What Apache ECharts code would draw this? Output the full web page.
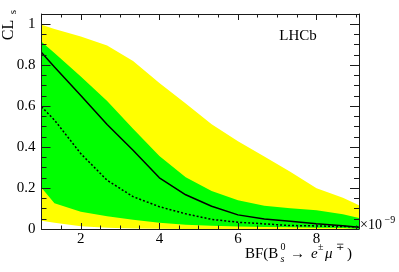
<!DOCTYPE html>
<html>
<head>
<meta charset="utf-8">
<script src="https://cdn.jsdelivr.net/npm/echarts@6/dist/echarts.min.js"></script>
<style>html,body{margin:0;padding:0;background:#fff;}#c{width:399px;height:272px;}</style>
</head>
<body>
<div id="c"></div>
<script>
// Data
var bf        = [1.0, 1.33, 2.0, 2.67, 3.33, 4.0, 4.67, 5.33, 6.0, 6.67, 7.33, 8.0, 8.67, 9.08];
var yellowUp  = [0.997, 0.977, 0.940, 0.896, 0.820, 0.713, 0.613, 0.512, 0.429, 0.354, 0.280, 0.199, 0.153, 0.116];
var greenUp   = [0.915, 0.860, 0.745, 0.625, 0.490, 0.356, 0.253, 0.185, 0.140, 0.113, 0.101, 0.091, 0.072, 0.054];
var greenLow  = [0.202, 0.126, 0.084, 0.062, 0.045, 0.030, 0.021, 0.016, 0.012, 0.010, 0.008, 0.006, 0.005, 0.004];
var yellowLow = [0.040, 0.031, 0.013, 0.006, 0.003, 0.001, 0, 0, 0, 0, 0, 0, 0, 0];
var observed  = [0.862, 0.791, 0.652, 0.510, 0.385, 0.250, 0.167, 0.111, 0.069, 0.049, 0.038, 0.026, 0.016, 0.008];
var expected  = [0.597, 0.532, 0.368, 0.238, 0.158, 0.109, 0.074, 0.047, 0.033, 0.025, 0.017, 0.015, 0.012, 0.010];

var xMajor = [2, 4, 6, 8];
var xMinor = [1.5, 2.5, 3, 3.5, 4.5, 5, 5.5, 6.5, 7, 7.5, 8.5, 9];
var yMajor = [0, 0.2, 0.4, 0.6, 0.8, 1];
var yMinor = [0.05, 0.1, 0.15, 0.25, 0.3, 0.35, 0.45, 0.5, 0.55, 0.65, 0.7, 0.75, 0.85, 0.9, 0.95, 1.0];

var XMIN = 1, XMAX = 9.08, YMIN = 0, YMAX = 1.05;
var SERIF = 'Liberation Serif';
var FRAME = '#1a1a1a';

function pairs(ys) { return bf.map(function (x, i) { return [x, ys[i]]; }); }

function xAx(pos, ticks, len, labels, line) {
  return {
    type: 'value', min: XMIN, max: XMAX, position: pos, z: 10,
    axisLine: { show: line, onZero: false, lineStyle: { color: FRAME, width: 1 } },
    axisTick: { show: true, inside: true, length: len, customValues: ticks, lineStyle: { color: FRAME, width: 1 } },
    axisLabel: labels ? { show: true, customValues: xMajor, margin: 3, color: '#000', fontFamily: SERIF, fontSize: 15 } : { show: false },
    splitLine: { show: false }
  };
}
function yAx(pos, ticks, len, labels, line) {
  return {
    type: 'value', min: YMIN, max: YMAX, position: pos, z: 10,
    axisLine: { show: line, onZero: false, lineStyle: { color: FRAME, width: 1 } },
    axisTick: { show: true, inside: true, length: len, customValues: ticks, lineStyle: { color: FRAME, width: 1 } },
    axisLabel: labels ? { show: true, customValues: yMajor, margin: 6, color: '#000', fontFamily: SERIF, fontSize: 15 } : { show: false },
    splitLine: { show: false }
  };
}
function area(ys, color, z) {
  return { type: 'line', data: pairs(ys), symbol: 'none', z: z, silent: true,
    lineStyle: { width: 0 }, areaStyle: { color: color, opacity: 1 } };
}

var chart = echarts.init(document.getElementById('c'), null, { renderer: 'canvas' });
chart.setOption({
  animation: false,
  backgroundColor: '#fff',
  grid: { left: 41.5, right: 40, top: 14, bottom: 43 },
  xAxis: [
    xAx('bottom', xMajor, 6, true, true),
    xAx('bottom', xMinor, 3.5, false, false),
    xAx('top', xMajor, 6, false, true),
    xAx('top', xMinor, 3.5, false, false)
  ],
  yAxis: [
    yAx('left', yMajor, 9, true, true),
    yAx('left', yMinor, 5, false, false),
    yAx('right', yMajor, 9, false, true),
    yAx('right', yMinor, 5, false, false)
  ],
  series: [
    area(yellowUp, '#ffff00', 1),
    area(greenUp, '#00ff00', 2),
    area(greenLow, '#ffff00', 3),
    area(yellowLow, '#ffffff', 4),
    { type: 'line', data: pairs(observed), symbol: 'none', z: 5,
      lineStyle: { color: '#000', width: 1.5 } },
    { type: 'line', data: pairs(expected), symbol: 'none', z: 5,
      lineStyle: { color: '#000', width: 1.5, type: [2, 2] } }
  ],
  graphic: [
    { type: 'text', x: 298, y: 36.5, style: { text: 'LHCb', font: '15px ' + SERIF, fill: '#000', align: 'center', verticalAlign: 'middle' } },
    { type: 'text', x: 8.5, y: 30, rotation: Math.PI / 2, style: { text: 'CL', font: '16px ' + SERIF, fill: '#000', align: 'center', verticalAlign: 'middle' } },
    { type: 'text', x: 13.5, y: 12, rotation: Math.PI / 2, style: { text: 's', font: '11px ' + SERIF, fill: '#000', align: 'center', verticalAlign: 'middle' } },
    { type: 'text', x: 360, y: 225, style: { text: '\u00d710', font: '14px ' + SERIF, fill: '#000', align: 'left', verticalAlign: 'middle' } },
    { type: 'text', x: 384.5, y: 220, style: { text: '\u22129', font: '10px ' + SERIF, fill: '#000', align: 'left', verticalAlign: 'middle' } },
    { type: 'text', x: 245, y: 254.5, style: { text: 'BF(B', font: '15px ' + SERIF, fill: '#000', align: 'left', verticalAlign: 'middle' } },
    { type: 'text', x: 280.5, y: 259.5, style: { text: 's', font: 'italic 10px ' + SERIF, fill: '#000', align: 'left', verticalAlign: 'middle' } },
    { type: 'text', x: 280.5, y: 247, style: { text: '0', font: '10px ' + SERIF, fill: '#000', align: 'left', verticalAlign: 'middle' } },
    { type: 'text', x: 290, y: 254, style: { text: '\u2192', font: '15px ' + SERIF, fill: '#000', align: 'left', verticalAlign: 'middle' } },
    { type: 'text', x: 311, y: 254.5, style: { text: 'e', font: 'italic 15px ' + SERIF, fill: '#000', align: 'left', verticalAlign: 'middle' } },
    { type: 'text', x: 318, y: 247.5, style: { text: '\u00b1', font: '10px ' + SERIF, fill: '#000', align: 'left', verticalAlign: 'middle' } },
    { type: 'text', x: 325, y: 254.5, style: { text: '\u03bc', font: 'italic 15px ' + SERIF, fill: '#000', align: 'left', verticalAlign: 'middle' } },
    { type: 'text', x: 336, y: 247.5, style: { text: '\u2213', font: '10px ' + SERIF, fill: '#000', align: 'left', verticalAlign: 'middle' } },
    { type: 'text', x: 347, y: 254.5, style: { text: ')', font: '15px ' + SERIF, fill: '#000', align: 'left', verticalAlign: 'middle' } }
  ]
});
</script>
</body>
</html>
